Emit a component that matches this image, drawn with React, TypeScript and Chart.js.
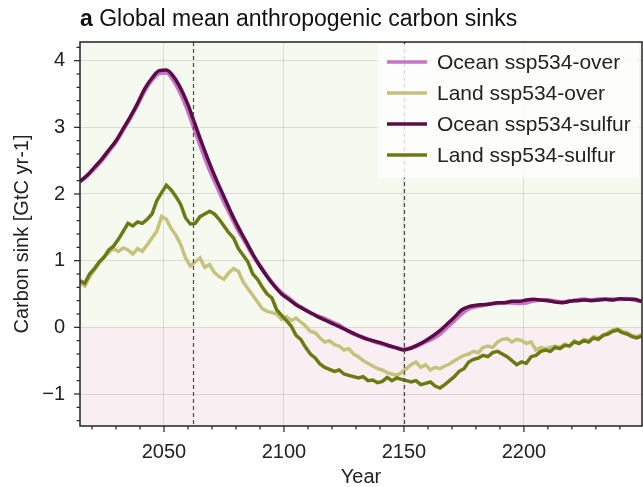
import { useEffect, useRef } from "react";
import { Chart, registerables } from "chart.js";

Chart.register(...registerables);

const FONT = '"Liberation Sans", Arial, Helvetica, sans-serif';

// Land sinks, every 2 years starting 2015 (GtC yr-1)
const landStartYear = 2015;
const landStepYears = 2;
const landOver = [
  0.66, 0.62, 0.76, 0.86, 0.96, 1.06, 1.12, 1.18, 1.14, 1.19,
  1.16, 1.10, 1.18, 1.14, 1.24, 1.34, 1.44, 1.66, 1.62, 1.48,
  1.38, 1.24, 1.04, 0.92, 0.98, 1.04, 0.90, 0.94, 0.82, 0.76,
  0.72, 0.82, 0.88, 0.84, 0.68, 0.58, 0.48, 0.38, 0.28, 0.24,
  0.22, 0.20, 0.12, 0.16, 0.10, 0.14, 0.08, 0.02, -0.06, -0.08,
  -0.16, -0.22, -0.20, -0.26, -0.28, -0.34, -0.32, -0.40, -0.44, -0.50,
  -0.54, -0.58, -0.62, -0.64, -0.68, -0.70, -0.72, -0.68, -0.62, -0.56,
  -0.52, -0.60, -0.56, -0.64, -0.60, -0.62, -0.58, -0.55, -0.50, -0.46,
  -0.42, -0.40, -0.36, -0.38, -0.30, -0.28, -0.30, -0.22, -0.18, -0.17,
  -0.22, -0.18, -0.20, -0.24, -0.22, -0.34, -0.30, -0.32, -0.30, -0.28,
  -0.30, -0.25, -0.28, -0.20, -0.24, -0.18, -0.20, -0.14, -0.16, -0.12,
  -0.08, -0.04, -0.02, -0.06, -0.08, -0.12, -0.14, -0.11,
];
const landSulfur = [
  0.70, 0.66, 0.80, 0.88, 0.98, 1.05, 1.16, 1.22, 1.32, 1.44,
  1.56, 1.52, 1.58, 1.56, 1.62, 1.70, 1.90, 2.02, 2.13, 2.06,
  1.96, 1.84, 1.64, 1.55, 1.56, 1.66, 1.70, 1.74, 1.70, 1.62,
  1.52, 1.42, 1.34, 1.18, 1.08, 0.98, 0.80, 0.72, 0.60, 0.50,
  0.44, 0.26, 0.18, 0.10, 0.02, -0.12, -0.18, -0.30, -0.40, -0.46,
  -0.55, -0.60, -0.63, -0.66, -0.64, -0.70, -0.72, -0.74, -0.76, -0.74,
  -0.80, -0.79, -0.83, -0.81, -0.75, -0.80, -0.76, -0.78, -0.80, -0.82,
  -0.80, -0.86, -0.84, -0.82, -0.88, -0.91, -0.86, -0.80, -0.74, -0.66,
  -0.62, -0.52, -0.48, -0.46, -0.42, -0.44, -0.38, -0.36, -0.40, -0.44,
  -0.50, -0.56, -0.52, -0.54, -0.44, -0.42, -0.36, -0.34, -0.36, -0.30,
  -0.32, -0.27, -0.28, -0.22, -0.24, -0.20, -0.22, -0.16, -0.18, -0.12,
  -0.10, -0.06, -0.04, -0.08, -0.10, -0.14, -0.16, -0.13,
];

// Ocean sinks, every 3 years starting 2015 (GtC yr-1)
const oceanStartYear = 2015;
const oceanStepYears = 3;
const oceanOver = [
  2.18, 2.27, 2.38, 2.50, 2.64, 2.78, 2.96, 3.14, 3.34, 3.55,
  3.71, 3.81, 3.82, 3.70, 3.50, 3.24, 2.94, 2.64, 2.36, 2.12,
  1.88, 1.66, 1.45, 1.27, 1.08, 0.92, 0.77, 0.63, 0.52, 0.44,
  0.35, 0.28, 0.22, 0.17, 0.13, 0.08, 0.03, -0.04, -0.10, -0.14,
  -0.18, -0.22, -0.25, -0.28, -0.31, -0.33, -0.31, -0.27, -0.22, -0.17,
  -0.10, 0.00, 0.10, 0.20, 0.28, 0.31, 0.33, 0.35, 0.36, 0.37,
  0.37, 0.36, 0.37, 0.40, 0.41, 0.41, 0.39, 0.38, 0.39, 0.41,
  0.42, 0.41, 0.42, 0.42, 0.42, 0.42, 0.43, 0.41, 0.39,
];
const oceanSulfur = [
  2.19, 2.28, 2.40, 2.52, 2.66, 2.80, 2.98, 3.16, 3.36, 3.58,
  3.74, 3.85, 3.86, 3.76, 3.58, 3.34, 3.04, 2.74, 2.46, 2.20,
  1.96, 1.72, 1.50, 1.30, 1.10, 0.92, 0.76, 0.62, 0.50, 0.42,
  0.34, 0.28, 0.22, 0.16, 0.11, 0.06, 0.01, -0.04, -0.09, -0.14,
  -0.18, -0.21, -0.24, -0.28, -0.31, -0.34, -0.31, -0.26, -0.20, -0.13,
  -0.05, 0.05, 0.15, 0.26, 0.31, 0.33, 0.34, 0.35, 0.37, 0.37,
  0.39, 0.39, 0.41, 0.42, 0.41, 0.40, 0.38, 0.37, 0.39, 0.40,
  0.41, 0.40, 0.41, 0.42, 0.41, 0.43, 0.42, 0.42, 0.39,
];

const seriesLabels = [
  "Ocean ssp534-over",
  "Land ssp534-over",
  "Ocean ssp534-sulfur",
  "Land ssp534-sulfur",
];
const seriesColors = ["#c674c6", "#c6c27c", "#5a0c46", "#6b7a12"];

// Vertical reference years drawn as dashed lines
const markerYears = [2062, 2150];

const titleTag = "a";
const titleText = "Global mean anthropogenic carbon sinks";
const xAxisTitle = "Year";
const yAxisTitle = "Carbon sink [GtC yr-1]";

const xMin = 2015;
const xMax = 2249.2;
const yMin = -1.48;
const yMax = 4.28;

function toPoints(start: number, step: number, values: number[]) {
  return values.map((v, i) => ({ x: start + i * step, y: v }));
}

function fmtTick(v: number) {
  return v < 0 ? "\u2212" + Math.abs(v) : String(v);
}

const decorPlugin = {
  id: "decor",
  beforeDraw(chart: any) {
    const { ctx, chartArea: a, scales } = chart;
    const y0 = scales.y.getPixelForValue(0);
    ctx.save();
    ctx.fillStyle = "#f5f9ef";
    ctx.fillRect(a.left, a.top, a.right - a.left, y0 - a.top);
    ctx.fillStyle = "#f9eef1";
    ctx.fillRect(a.left, y0, a.right - a.left, a.bottom - y0);
    ctx.restore();
  },
  afterDatasetsDraw(chart: any) {
    const { ctx, chartArea: a, scales } = chart;
    const xs = scales.x;
    const ys = scales.y;
    ctx.save();

    // dashed reference years
    ctx.strokeStyle = "#4a4a4a";
    ctx.lineWidth = 1.2;
    ctx.setLineDash([4, 3]);
    markerYears.forEach((yr) => {
      const px = Math.round(xs.getPixelForValue(yr)) + 0.5;
      ctx.beginPath();
      ctx.moveTo(px, a.top);
      ctx.lineTo(px, a.bottom);
      ctx.stroke();
    });
    ctx.setLineDash([]);

    // legend
    const lx = 378;
    const ly = 44;
    ctx.fillStyle = "rgba(255,255,255,0.8)";
    ctx.fillRect(lx, ly, a.right - 3 - lx, 134);
    ctx.font = `21px ${FONT}`;
    ctx.textBaseline = "middle";
    ctx.textAlign = "left";
    seriesLabels.forEach((lab, i) => {
      const yy = 62 + i * 31;
      ctx.strokeStyle = seriesColors[i];
      ctx.lineWidth = 3.5;
      ctx.beginPath();
      ctx.moveTo(387, yy);
      ctx.lineTo(427, yy);
      ctx.stroke();
      ctx.fillStyle = "#222";
      ctx.fillText(lab, 437, yy + 1);
    });

    // frame
    ctx.strokeStyle = "#222";
    ctx.lineWidth = 1.5;
    ctx.strokeRect(a.left, a.top, a.right - a.left, a.bottom - a.top);

    // tick marks (major and minor)
    ctx.lineWidth = 1.2;
    for (let yr = 2020; yr <= 2240; yr += 10) {
      const px = xs.getPixelForValue(yr);
      const len = yr % 50 === 0 ? 6 : 3.5;
      ctx.beginPath();
      ctx.moveTo(px, a.bottom);
      ctx.lineTo(px, a.bottom + len);
      ctx.stroke();
    }
    for (let k = -7; k <= 21; k++) {
      const v = k / 5;
      const py = ys.getPixelForValue(v);
      const len = k % 5 === 0 ? 6 : 3.5;
      ctx.beginPath();
      ctx.moveTo(a.left, py);
      ctx.lineTo(a.left - len, py);
      ctx.stroke();
    }

    // title
    ctx.fillStyle = "#111";
    ctx.textBaseline = "alphabetic";
    ctx.font = `bold 23px ${FONT}`;
    ctx.fillText(titleTag, a.left, 26);
    const w = ctx.measureText(titleTag + " ").width;
    ctx.font = `23px ${FONT}`;
    ctx.fillText(titleText, a.left + w, 26);
    ctx.restore();
  },
};

export default function App() {
  const ref = useRef<HTMLCanvasElement | null>(null);

  useEffect(() => {
    if (!ref.current) return;
    const datasets = [
      {
        label: seriesLabels[3],
        data: toPoints(landStartYear, landStepYears, landSulfur),
        borderColor: seriesColors[3],
        borderWidth: 3.5,
        pointRadius: 0,
        tension: 0,
      },
      {
        label: seriesLabels[2],
        data: toPoints(oceanStartYear, oceanStepYears, oceanSulfur),
        borderColor: seriesColors[2],
        borderWidth: 3.5,
        pointRadius: 0,
        cubicInterpolationMode: "monotone" as const,
      },
      {
        label: seriesLabels[1],
        data: toPoints(landStartYear, landStepYears, landOver),
        borderColor: seriesColors[1],
        borderWidth: 3.5,
        pointRadius: 0,
        tension: 0,
      },
      {
        label: seriesLabels[0],
        data: toPoints(oceanStartYear, oceanStepYears, oceanOver),
        borderColor: seriesColors[0],
        borderWidth: 4,
        pointRadius: 0,
        cubicInterpolationMode: "monotone" as const,
      },
    ];

    const chart = new Chart(ref.current, {
      type: "line",
      data: { datasets },
      plugins: [decorPlugin],
      options: {
        animation: false,
        responsive: false,
        events: [],
        layout: { padding: { top: 42, right: 1, left: 0, bottom: 0 } },
        plugins: {
          legend: { display: false },
          tooltip: { enabled: false },
        },
        scales: {
          x: {
            type: "linear",
            min: xMin,
            max: xMax,
            afterFit: (s: any) => {
              s.height = 61;
            },
            border: { display: false },
            grid: { color: "rgba(0,0,0,0.11)", lineWidth: 1, drawTicks: false },
            ticks: {
              stepSize: 50,
              includeBounds: false,
              padding: 14,
              color: "#222",
              font: { family: FONT, size: 20 },
              callback: (v: any) => String(v),
            },
            title: {
              display: true,
              text: xAxisTitle,
              color: "#222",
              font: { family: FONT, size: 20, lineHeight: 1 },
              padding: { top: 0, bottom: 0 },
            },
          },
          y: {
            type: "linear",
            min: yMin,
            max: yMax,
            afterFit: (s: any) => {
              s.width = 80;
            },
            border: { display: false },
            grid: { color: "rgba(0,0,0,0.11)", lineWidth: 1, drawTicks: false },
            ticks: {
              stepSize: 1,
              includeBounds: false,
              padding: 15,
              color: "#222",
              font: { family: FONT, size: 20 },
              callback: (v: any) => fmtTick(Number(v)),
            },
            title: {
              display: true,
              text: yAxisTitle,
              color: "#222",
              font: { family: FONT, size: 20, lineHeight: 1.2 },
              padding: { top: 10, bottom: 0 },
            },
          },
        },
      },
    });
    return () => chart.destroy();
  }, []);

  return (
    <div style={{ position: "absolute", left: 0, top: 0, width: 643, height: 487, background: "#fff" }}>
      <canvas ref={ref} width={643} height={487} style={{ display: "block" }} />
    </div>
  );
}
